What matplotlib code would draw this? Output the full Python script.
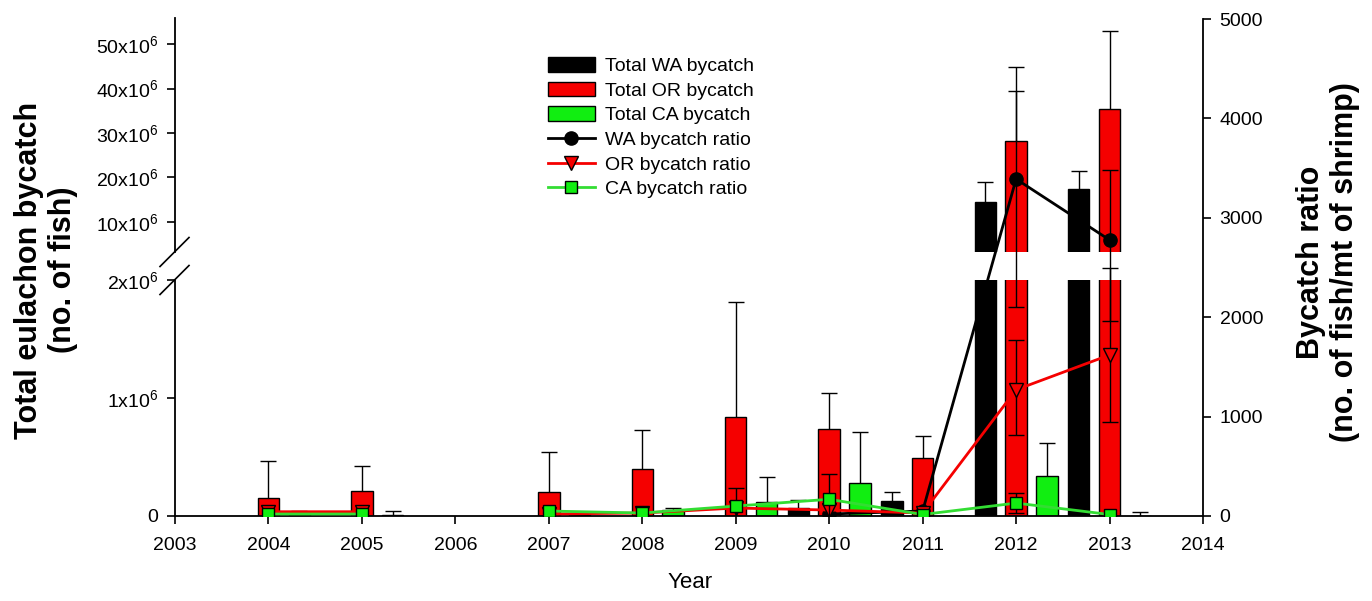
import numpy as np
import matplotlib
matplotlib.use('Agg')
import matplotlib.pyplot as plt
from matplotlib.lines import Line2D
from matplotlib.patches import Patch

plt.rcParams['font.family'] = ['Liberation Sans', 'DejaVu Sans']
plt.rcParams['mathtext.fontset'] = 'custom'
plt.rcParams['mathtext.rm'] = 'Liberation Sans'

nan = np.nan
# ---------------- data ----------------
years = [2004, 2005, 2006, 2007, 2008, 2009, 2010, 2011, 2012, 2013]
wa_total = [nan, nan, nan, nan, nan, nan, 0.07e6, 0.13e6, 14.5e6, 17.5e6]
wa_total_err = [nan, nan, nan, nan, nan, nan, 0.065e6, 0.07e6, 4.5e6, 4.0e6]
or_total = [0.153e6, 0.21e6, nan, 0.20e6, 0.40e6, 0.84e6, 0.74e6, 0.49e6, 28.1e6, 35.3e6]
or_total_err = [0.31e6, 0.21e6, nan, 0.34e6, 0.33e6, 0.97e6, 0.30e6, 0.19e6, 11.3e6, 17.6e6]
ca_total = [0.03e6, 0.005e6, nan, 0.01e6, 0.05e6, 0.12e6, 0.28e6, 0.0, 0.34e6, 0.0]
ca_total_err = [0.01e6, 0.035e6, nan, 0.01e6, 0.02e6, 0.21e6, 0.43e6, nan, 0.28e6, 0.03e6]

wa_ratio = [nan, nan, nan, nan, nan, nan, 20, 50, 3390, 2777]
wa_ratio_err_lo = [0, 0, 0, 0, 0, 0, 0, 0, 1290, 815]
wa_ratio_err_hi = [0, 0, 0, 0, 0, 0, 0, 0, 1127, 700]
or_ratio = [43, 43, nan, 20, 30, 80, 60, 30, 1270, 1620]
or_ratio_err_lo = [0, 0, 0, 0, 0, 0, 0, 0, 455, 675]
or_ratio_err_hi = [0, 0, 0, 0, 0, 0, 0, 0, 500, 875]
ca_ratio = [20, 20, nan, 50, 30, 100, 168, 15, 130, 15]
ca_ratio_err = [0, 0, 0, 0, 0, 182, 252, 0, 101, 0]

xticks = list(range(2003, 2015))
left_lo_ticks = [0, 1e6, 2e6]
left_lo_labels = ['0', r'$\mathregular{1x10^6}$', r'$\mathregular{2x10^6}$']
left_hi_ticks = [10e6, 20e6, 30e6, 40e6, 50e6]
left_hi_labels = [r'$\mathregular{%dx10^6}$' % v for v in (10, 20, 30, 40, 50)]
right_ticks = [0, 1000, 2000, 3000, 4000, 5000]

RED = '#f50000'
GREEN = '#11ee11'
LGREEN = '#33dd33'

# ---------------- layout ----------------
W, H = 1372, 601
fig = plt.figure(figsize=(W / 100, H / 100), dpi=100)
x0, x1 = 175, 1203
ax_lo = fig.add_axes([x0 / W, 1 - 516 / H, (x1 - x0) / W, (516 - 280) / H])
ax_hi = fig.add_axes([x0 / W, 1 - 252 / H, (x1 - x0) / W, (252 - 18) / H])
ax_r = fig.add_axes([x0 / W, 1 - 516 / H, (x1 - x0) / W, (516 - 19) / H])

yrs = np.array(years, dtype=float)
off = 0.33
bw = 0.23
series_bars = [(wa_total, wa_total_err, -off, 'black'),
               (or_total, or_total_err, 0.0, RED),
               (ca_total, ca_total_err, off, GREEN)]

for ax in (ax_lo, ax_hi):
    for vals, errs, o, col in series_bars:
        v = np.array(vals, dtype=float)
        e = np.array(errs, dtype=float)
        m = ~np.isnan(v)
        ax.bar(yrs[m] + o, v[m], width=bw, color=col, edgecolor='black',
               linewidth=1.0, zorder=2)
        me = m & ~np.isnan(e)
        # upward-only error bars
        ax.vlines(yrs[me] + o, v[me], v[me] + e[me], color='black',
                  linewidth=1.0, zorder=3)
        ax.plot(yrs[me] + o, v[me] + e[me], linestyle='none', marker='_',
                markersize=12, markeredgewidth=1.0, color='black', zorder=3)
    ax.set_xlim(2003, 2014)

ax_lo.set_ylim(0, 2e6)
ax_hi.set_ylim(3.2e6, 55.9e6)

for ax in (ax_lo, ax_hi):
    ax.spines['top'].set_visible(False)
    ax.spines['right'].set_visible(False)
    ax.spines['left'].set_linewidth(1.3)
    ax.tick_params(axis='y', direction='out', length=6, width=1.2,
                   labelsize=14, pad=6)
    ax.patch.set_visible(False)
ax_hi.spines['bottom'].set_visible(False)
ax_hi.set_xticks([])
ax_lo.spines['bottom'].set_linewidth(1.3)

ax_lo.set_yticks(left_lo_ticks)
ax_lo.set_yticklabels(left_lo_labels)
ax_hi.set_yticks(left_hi_ticks)
ax_hi.set_yticklabels(left_hi_labels)
ax_lo.set_xticks(xticks)
ax_lo.set_xticklabels([str(t) for t in xticks])
ax_lo.tick_params(axis='x', direction='out', length=6, width=1.2,
                  labelsize=14, pad=9)

# break marks
for ax, yb, hpx in ((ax_hi, 0.0, 234), (ax_lo, 1.0, 236)):
    ax.plot([-15 / 1028, 14 / 1028], [yb - 14.5 / hpx, yb + 14.5 / hpx],
            transform=ax.transAxes, color='black', lw=1.2, clip_on=False)

# ---------------- ratio axis ----------------
ax_r.patch.set_visible(False)
for s in ('top', 'left', 'bottom'):
    ax_r.spines[s].set_visible(False)
ax_r.spines['right'].set_linewidth(1.3)
ax_r.yaxis.tick_right()
ax_r.set_xticks([])
ax_r.set_xlim(2003, 2014)
ax_r.set_ylim(0, 5000)
ax_r.set_yticks(right_ticks)
ax_r.tick_params(axis='y', direction='out', length=6, width=1.2,
                 labelsize=14, pad=6)

ratio_series = [
    (wa_ratio, wa_ratio_err_lo, wa_ratio_err_hi, 'black', 'o', 'black', 'black', 9.5),
    (or_ratio, or_ratio_err_lo, or_ratio_err_hi, RED, 'v', RED, 'black', 10),
    (ca_ratio, ca_ratio_err, ca_ratio_err, LGREEN, 's', GREEN, 'black', 8.5),
]
z = 4
for vals, elo, ehi, lc, mk, fc, ec, ms in ratio_series:
    v = np.array(vals, dtype=float)
    lo = np.array(elo, dtype=float)
    hi = np.array(ehi, dtype=float)
    me = (~np.isnan(v)) & ((lo > 0) | (hi > 0))
    if me.any():
        ax_r.errorbar(yrs[me], v[me], yerr=[lo[me], hi[me]], fmt='none',
                      ecolor='black', elinewidth=1.0, capsize=6, capthick=1.0,
                      zorder=z)
    ax_r.plot(yrs, v, color=lc, lw=2, marker=mk, markersize=ms,
              markerfacecolor=fc, markeredgecolor=ec, markeredgewidth=1.0,
              zorder=z + 1)
    z += 2

# ---------------- labels ----------------
fig.text(46 / W, 1 - 270 / H, 'Total eulachon bycatch\n(no. of fish)',
         rotation=90, ha='center', va='center', fontsize=22,
         fontweight='bold', multialignment='center', linespacing=1.15)
fig.text(1328 / W, 1 - 262 / H, 'Bycatch ratio\n(no. of fish/mt of shrimp)',
         rotation=90, ha='center', va='center', fontsize=22,
         fontweight='bold', multialignment='center', linespacing=1.15)
fig.text(690 / W, 1 - 583 / H, 'Year', ha='center', va='center', fontsize=16)

handles = [
    Patch(facecolor='black', edgecolor='black', linewidth=1.0),
    Patch(facecolor=RED, edgecolor='black', linewidth=1.0),
    Patch(facecolor=GREEN, edgecolor='black', linewidth=1.0),
    Line2D([], [], color='black', lw=2, marker='o', markersize=9.5,
           markerfacecolor='black', markeredgecolor='black'),
    Line2D([], [], color=RED, lw=2, marker='v', markersize=10,
           markerfacecolor=RED, markeredgecolor='black'),
    Line2D([], [], color=LGREEN, lw=2, marker='s', markersize=8.5,
           markerfacecolor=GREEN, markeredgecolor='black'),
]
labels = ['Total WA bycatch', 'Total OR bycatch', 'Total CA bycatch',
          'WA bycatch ratio', 'OR bycatch ratio', 'CA bycatch ratio']
fig.legend(handles, labels, loc='upper left',
           bbox_to_anchor=(548 / W, 1 - 57 / H), frameon=False,
           fontsize=14, handlelength=2.4, handleheight=0.8,
           handletextpad=0.55, labelspacing=0.33, borderpad=0,
           borderaxespad=0)

fig.savefig('out.png', dpi=100)
